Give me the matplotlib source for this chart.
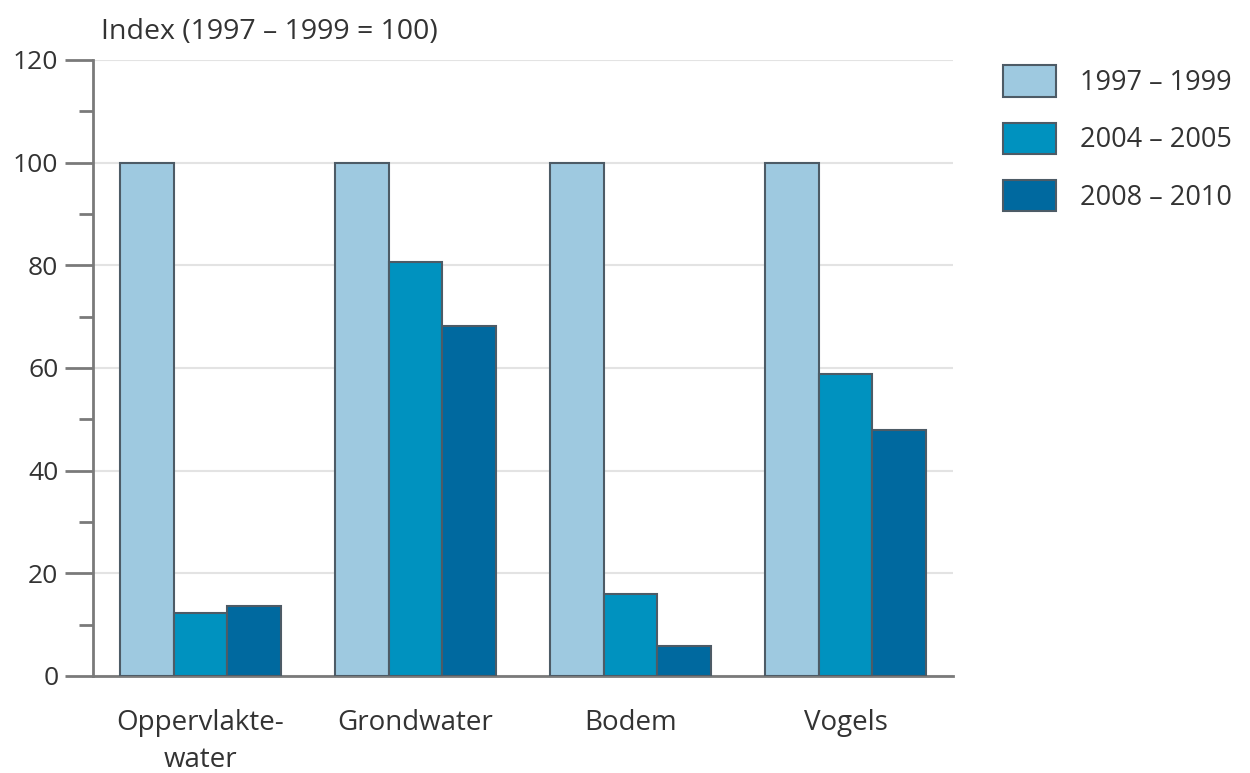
import matplotlib
matplotlib.use("Agg")
import matplotlib.pyplot as plt
import numpy as np
from matplotlib.ticker import MultipleLocator

plt.rcParams["font.family"] = ["Open Sans", "DejaVu Sans"]

TEXT = "#333333"
EDGE = "#4d5b66"
GRID = "#e3e3e3"
SPINE = "#7a7a7a"

categories = ["Oppervlakte-\nwater", "Grondwater", "Bodem", "Vogels"]
periods = ["1997 \u2013 1999", "2004 \u2013 2005", "2008 \u2013 2010"]
colors = ["#9ec9e0", "#0092bf", "#00699f"]

# index values per category (1997-1999 = 100)
v_1997_1999 = [100, 100, 100, 100]
v_2004_2005 = [12.2, 80.6, 16.0, 58.9]
v_2008_2010 = [13.6, 68.2, 5.9, 47.9]
series = [v_1997_1999, v_2004_2005, v_2008_2010]

fig = plt.figure(figsize=(12.5, 7.73), dpi=100, facecolor="white")
ax = fig.add_axes([0.0744, 0.1255, 0.688, 0.797])

x = np.arange(len(categories))
width = 0.25
handles = []
for i, (vals, col, lab) in enumerate(zip(series, colors, periods)):
    b = ax.bar(x + (i - 1) * width, vals, width, color=col, edgecolor=EDGE,
               linewidth=1.5, label=lab, zorder=3)
    handles.append(b)

ax.set_xlim(-0.5, 3.5)
ax.set_ylim(0, 120)
ax.yaxis.set_major_locator(MultipleLocator(20))
ax.yaxis.set_minor_locator(MultipleLocator(10))
ax.grid(axis="y", which="major", color=GRID, linewidth=1.5, zorder=0)
ax.set_axisbelow(True)

for s in ["top", "right"]:
    ax.spines[s].set_visible(False)
for s in ["left", "bottom"]:
    ax.spines[s].set_color(SPINE)
    ax.spines[s].set_linewidth(2)

ax.set_xticks(x)
ax.set_xticklabels(categories, fontsize=20, color=TEXT, linespacing=1.42)
ax.tick_params(axis="x", length=0, pad=24)
ax.tick_params(axis="y", which="major", length=20, width=2, color=SPINE,
               labelsize=19, labelcolor=TEXT, pad=5)
ax.tick_params(axis="y", which="minor", length=10, width=2, color=SPINE)

ax.text(0.009, 1.022, "Index (1997 \u2013 1999 = 100)", transform=ax.transAxes,
        fontsize=20.5, color=TEXT, ha="left", va="bottom")

fig.legend(handles=handles, labels=periods, loc="upper left",
           bbox_to_anchor=(0.783, 0.947), frameon=False, fontsize=19.5,
           labelcolor=TEXT, handlelength=1.96, handleheight=1.4,
           handletextpad=0.88, labelspacing=0.95, borderpad=0.4)

fig.savefig("out.png", dpi=100, facecolor="white")
